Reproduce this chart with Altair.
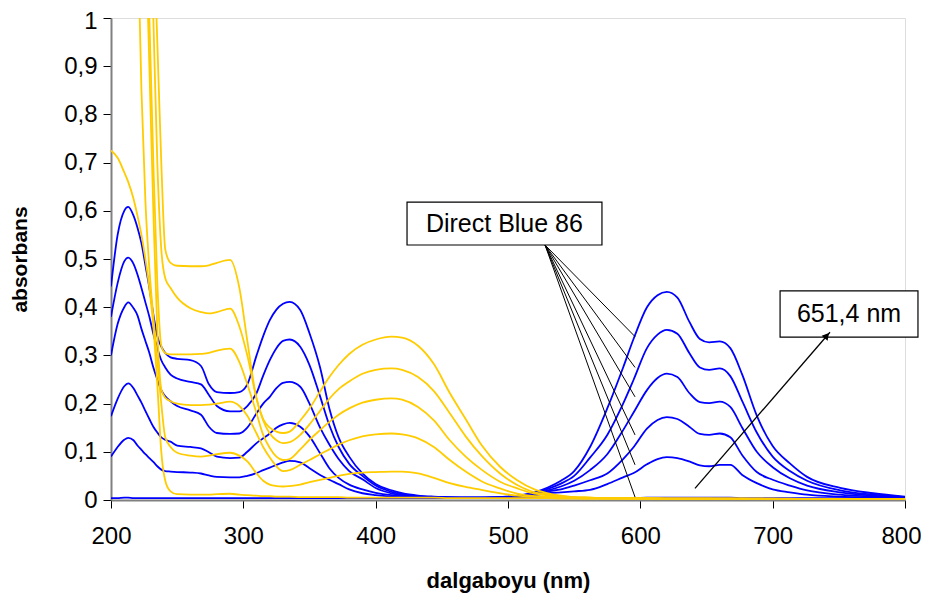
import altair as alt
import pandas as pd

# wavelength grid (nm)
wl = [200, 205, 210, 213, 217, 220, 223, 226, 229, 232, 235, 238, 241, 245, 250,
      260, 268, 274, 280, 290, 297, 303, 310, 315, 320, 325, 330, 335, 343, 350,
      358, 365, 372, 380, 390, 400, 412, 420, 432, 444, 456, 468, 480, 494, 507,
      520, 530, 540, 550, 562, 575, 587, 595, 605, 613, 620, 628, 637, 645, 652,
      660, 668, 677, 688, 700, 713, 726, 751, 776, 800]

# blue series (Direct Blue 86, decreasing concentrations)
b1 = [0.443, 0.55, 0.60, 0.608, 0.59, 0.565, 0.533, 0.487, 0.44, 0.385, 0.34, 0.318, 0.305, 0.296, 0.293,
      0.29, 0.278, 0.24, 0.224, 0.222, 0.224, 0.24, 0.30, 0.34, 0.373, 0.395, 0.407, 0.411, 0.394, 0.346,
      0.275, 0.19, 0.13, 0.09, 0.055, 0.033, 0.02, 0.014, 0.009, 0.007, 0.006, 0.005, 0.005, 0.006, 0.009,
      0.016, 0.026, 0.04, 0.06, 0.11, 0.19, 0.275, 0.335, 0.40, 0.425, 0.432, 0.42, 0.37, 0.334, 0.327,
      0.329, 0.315, 0.26, 0.175, 0.112, 0.076, 0.048, 0.025, 0.014, 0.007]
b2 = [0.38, 0.45, 0.495, 0.503, 0.49, 0.468, 0.44, 0.41, 0.38, 0.345, 0.315, 0.29, 0.275, 0.26, 0.252,
      0.245, 0.24, 0.218, 0.195, 0.184, 0.184, 0.195, 0.222, 0.258, 0.29, 0.315, 0.33, 0.333, 0.318, 0.28,
      0.215, 0.155, 0.11, 0.075, 0.05, 0.03, 0.017, 0.012, 0.008, 0.006, 0.005, 0.005, 0.005, 0.006, 0.008,
      0.015, 0.023, 0.034, 0.05, 0.088, 0.135, 0.2, 0.25, 0.315, 0.343, 0.353, 0.345, 0.305, 0.275, 0.27,
      0.273, 0.257, 0.205, 0.14, 0.09, 0.06, 0.04, 0.02, 0.011, 0.006]
b3 = [0.30, 0.365, 0.40, 0.41, 0.398, 0.383, 0.355, 0.33, 0.305, 0.275, 0.25, 0.228, 0.215, 0.205, 0.195,
      0.186, 0.177, 0.152, 0.139, 0.137, 0.138, 0.15, 0.18, 0.20, 0.214, 0.232, 0.243, 0.245, 0.235, 0.20,
      0.15, 0.115, 0.085, 0.06, 0.043, 0.025, 0.014, 0.01, 0.007, 0.005, 0.005, 0.005, 0.005, 0.006, 0.008,
      0.014, 0.02, 0.028, 0.04, 0.062, 0.095, 0.145, 0.182, 0.228, 0.253, 0.262, 0.255, 0.222, 0.203, 0.201,
      0.204, 0.193, 0.15, 0.10, 0.068, 0.045, 0.03, 0.016, 0.009, 0.005]
b4 = [0.174, 0.21, 0.236, 0.242, 0.232, 0.217, 0.202, 0.185, 0.168, 0.152, 0.14, 0.13, 0.125, 0.121, 0.113,
      0.11, 0.107, 0.099, 0.09, 0.087, 0.088, 0.10, 0.118, 0.128, 0.138, 0.15, 0.157, 0.16, 0.152, 0.132,
      0.097, 0.066, 0.046, 0.032, 0.022, 0.015, 0.01, 0.008, 0.006, 0.005, 0.005, 0.005, 0.005, 0.005, 0.007,
      0.012, 0.018, 0.022, 0.03, 0.041, 0.055, 0.085, 0.11, 0.148, 0.166, 0.172, 0.168, 0.152, 0.137, 0.135,
      0.138, 0.13, 0.093, 0.058, 0.042, 0.03, 0.02, 0.011, 0.007, 0.004]
b5 = [0.09, 0.11, 0.125, 0.129, 0.124, 0.113, 0.104, 0.095, 0.087, 0.079, 0.07, 0.063, 0.06, 0.059, 0.058,
      0.057, 0.055, 0.051, 0.048, 0.047, 0.047, 0.05, 0.056, 0.062, 0.067, 0.073, 0.078, 0.081, 0.078, 0.066,
      0.052, 0.042, 0.033, 0.022, 0.014, 0.01, 0.007, 0.006, 0.005, 0.005, 0.005, 0.005, 0.005, 0.005, 0.006,
      0.01, 0.014, 0.016, 0.018, 0.021, 0.033, 0.047, 0.056, 0.074, 0.085, 0.089, 0.087, 0.08, 0.072, 0.07,
      0.073, 0.073, 0.052, 0.035, 0.022, 0.016, 0.011, 0.007, 0.005, 0.003]
b0 = [0.004, 0.004, 0.005, 0.005, 0.004, 0.004, 0.004, 0.004, 0.004, 0.004, 0.004, 0.004, 0.004, 0.004, 0.004,
      0.004, 0.004, 0.004, 0.004, 0.004, 0.004, 0.004, 0.004, 0.004, 0.004, 0.004, 0.004, 0.004, 0.004, 0.004,
      0.004, 0.004, 0.004, 0.004, 0.004, 0.004, 0.004, 0.004, 0.004, 0.004, 0.004, 0.004, 0.004, 0.004, 0.004,
      0.004, 0.004, 0.004, 0.004, 0.004, 0.004, 0.004, 0.004, 0.005, 0.005, 0.005, 0.005, 0.005, 0.005, 0.005,
      0.005, 0.005, 0.004, 0.004, 0.004, 0.004, 0.004, 0.004, 0.004, 0.004]

# yellow series (decolorised / degradation products)
y1 = [2.0, 2.0, 2.0, 2.0, 2.0, 2.0, 1.9, 1.7, 1.5, 1.2, 0.95, 0.7, 0.52, 0.492, 0.486,
      0.485, 0.485, 0.487, 0.492, 0.498, 0.44, 0.33, 0.21, 0.168, 0.15, 0.142, 0.139, 0.142, 0.165, 0.19,
      0.225, 0.255, 0.28, 0.303, 0.322, 0.333, 0.339, 0.337, 0.32, 0.282, 0.222, 0.168, 0.114, 0.069, 0.041,
      0.022, 0.014, 0.009, 0.006, 0.005, 0.004, 0.004, 0.004, 0.004, 0.004, 0.003, 0.003, 0.003, 0.003, 0.003,
      0.003, 0.003, 0.003, 0.003, 0.003, 0.003, 0.002, 0.002, 0.002, 0.002]
y2 = [2.0, 2.0, 2.0, 2.0, 2.0, 2.0, 2.0, 1.6, 1.3, 1.0, 0.7, 0.52, 0.46, 0.44, 0.42,
      0.398, 0.39, 0.387, 0.39, 0.397, 0.36, 0.30, 0.21, 0.165, 0.138, 0.124, 0.118, 0.12, 0.135, 0.157,
      0.185, 0.21, 0.23, 0.246, 0.262, 0.27, 0.273, 0.27, 0.255, 0.226, 0.18, 0.132, 0.092, 0.055, 0.031,
      0.016, 0.012, 0.008, 0.006, 0.005, 0.004, 0.004, 0.004, 0.004, 0.003, 0.003, 0.003, 0.003, 0.003, 0.003,
      0.003, 0.003, 0.003, 0.003, 0.003, 0.002, 0.002, 0.002, 0.002, 0.002]
y3 = [2.0, 2.0, 2.0, 2.0, 2.0, 2.0, 1.7, 1.4, 1.0, 0.7, 0.45, 0.32, 0.305, 0.302, 0.302,
      0.302, 0.303, 0.305, 0.31, 0.314, 0.286, 0.24, 0.18, 0.135, 0.108, 0.09, 0.083, 0.085, 0.105, 0.125,
      0.145, 0.162, 0.177, 0.19, 0.202, 0.208, 0.211, 0.208, 0.193, 0.165, 0.124, 0.09, 0.063, 0.038, 0.024,
      0.013, 0.01, 0.007, 0.005, 0.004, 0.004, 0.004, 0.003, 0.003, 0.003, 0.003, 0.003, 0.003, 0.003, 0.003,
      0.003, 0.003, 0.003, 0.003, 0.002, 0.002, 0.002, 0.002, 0.002, 0.002]
y4 = [2.0, 2.0, 2.0, 2.0, 2.0, 1.8, 1.5, 1.2, 0.9, 0.6, 0.35, 0.23, 0.212, 0.205, 0.20,
      0.197, 0.197, 0.198, 0.20, 0.204, 0.195, 0.175, 0.138, 0.11, 0.088, 0.07, 0.06, 0.062, 0.073, 0.083,
      0.095, 0.105, 0.115, 0.124, 0.132, 0.136, 0.138, 0.136, 0.128, 0.11, 0.083, 0.059, 0.039, 0.024, 0.013,
      0.008, 0.007, 0.005, 0.004, 0.004, 0.003, 0.003, 0.003, 0.003, 0.003, 0.003, 0.003, 0.003, 0.003, 0.003,
      0.003, 0.003, 0.003, 0.002, 0.002, 0.002, 0.002, 0.002, 0.002, 0.002]
y5 = [2.0, 2.0, 2.0, 2.0, 1.6, 1.2, 0.85, 0.62, 0.48, 0.38, 0.29, 0.2, 0.13, 0.11, 0.098,
      0.092, 0.09, 0.092, 0.095, 0.098, 0.092, 0.08, 0.055, 0.04, 0.032, 0.029, 0.028, 0.029, 0.032, 0.037,
      0.042, 0.046, 0.05, 0.054, 0.057, 0.058, 0.059, 0.059, 0.055, 0.046, 0.035, 0.027, 0.021, 0.014, 0.009,
      0.007, 0.006, 0.005, 0.004, 0.003, 0.003, 0.003, 0.003, 0.003, 0.003, 0.003, 0.003, 0.003, 0.003, 0.003,
      0.003, 0.003, 0.002, 0.002, 0.002, 0.002, 0.002, 0.002, 0.002, 0.002]
y6 = [0.725, 0.71, 0.68, 0.66, 0.625, 0.59, 0.55, 0.50, 0.44, 0.36, 0.24, 0.10, 0.04, 0.018, 0.012,
      0.011, 0.011, 0.011, 0.012, 0.013, 0.011, 0.01, 0.009, 0.008, 0.008, 0.007, 0.007, 0.007, 0.006, 0.006,
      0.006, 0.006, 0.006, 0.005, 0.005, 0.005, 0.005, 0.005, 0.005, 0.005, 0.004, 0.004, 0.004, 0.004, 0.004,
      0.004, 0.004, 0.003, 0.003, 0.003, 0.003, 0.003, 0.003, 0.003, 0.003, 0.003, 0.003, 0.003, 0.003, 0.003,
      0.002, 0.002, 0.002, 0.002, 0.002, 0.002, 0.002, 0.002, 0.002, 0.002]

series = {
    "b1": ("blue", b1), "b2": ("blue", b2), "b3": ("blue", b3), "b4": ("blue", b4),
    "b5": ("blue", b5), "b0": ("blue", b0),
    "y1": ("yellow", y1), "y2": ("yellow", y2), "y3": ("yellow", y3), "y4": ("yellow", y4),
    "y5": ("yellow", y5), "y6": ("yellow", y6),
}
rows = []
for name, (grp, vals) in series.items():
    for w, v in zip(wl, vals):
        rows.append({"s": name, "g": grp, "wl": w, "v": v})
df = pd.DataFrame(rows)

# annotation anchors (data coordinates)
label_box = {"wl": 423.7, "wl2": 571.0, "v": 0.618, "v2": 0.529}
label_text = {"wl": 497.3, "v": 0.5735, "t": "Direct Blue 86"}
leader_end_v = [0.339, 0.275, 0.214, 0.135, 0.073, 0.006]
leader_start = (528.0, 0.529)
leader_end_wl = 596.0
nm_box = {"wl": 705.6, "wl2": 809.8, "v": 0.434, "v2": 0.338}
nm_text = {"wl": 757.7, "v": 0.386, "t": "651,4 nm"}
arrow = {"wl": 641.3, "v": 0.024, "wl2": 743.3, "v2": 0.348}
arrow_head_pos = {"wl": 740.9, "v": 0.341}

FONT = "Liberation Sans"
xs = alt.Scale(domain=[200, 800], nice=False, zero=False)
ys = alt.Scale(domain=[0, 1], nice=False)

xaxis = alt.Axis(values=[200, 300, 400, 500, 600, 700, 800], title="dalgaboyu (nm)",
                 grid=False, tickSize=8, labelFontSize=24, labelPadding=16,
                 labelOffset={"condition": {"test": "datum.value == 800", "value": -4}, "value": 0},
                 labelFont=FONT, titleFont=FONT, titleFontSize=22, titleFontWeight="bold",
                 titleY=80, titleBaseline="middle", domainColor="#808080", domainWidth=2,
                 tickColor="#000000", labelColor="#000000", titleColor="#000000", labelFlush=False)
yaxis = alt.Axis(values=[0, 0.1, 0.2, 0.3, 0.4, 0.5, 0.6, 0.7, 0.8, 0.9, 1.0], title="absorbans",
                 grid=False, tickSize=8, labelFontSize=24, labelPadding=6,
                 labelOffset={"condition": {"test": "datum.value == 1", "value": 3}, "value": 0},
                 labelExpr="datum.value == 0 ? '0' : (datum.value == 1 ? '1' : replace(format(datum.value, '.1f'), '.', ','))",
                 labelFont=FONT, titleFont=FONT, titleFontSize=21, titleFontWeight="bold",
                 titleX=-91, titleBaseline="middle", domainColor="#808080", domainWidth=2,
                 tickColor="#000000", labelColor="#000000", titleColor="#000000", labelFlush=False)

X = alt.X("wl:Q", scale=xs, axis=xaxis)
Y = alt.Y("v:Q", scale=ys, axis=yaxis)

color = alt.Color("g:N", scale=alt.Scale(domain=["blue", "yellow"], range=["#0000FF", "#FFCC00"]), legend=None)

blue = alt.Chart(df[df.g == "blue"]).mark_line(clip=True, strokeWidth=1.8, interpolate="monotone").encode(
    x=X, y=Y, color=color, detail="s:N")
yellow = alt.Chart(df[df.g == "yellow"]).mark_line(clip=True, strokeWidth=1.8, interpolate="monotone").encode(
    x=X, y=Y, color=color, detail="s:N")

lead_df = pd.DataFrame({"wl": [leader_start[0]] * len(leader_end_v), "v": [leader_start[1]] * len(leader_end_v),
                        "wl2": [leader_end_wl] * len(leader_end_v), "v2": leader_end_v})
leaders = alt.Chart(lead_df).mark_rule(color="#000000", strokeWidth=1).encode(
    x=X, y=Y, x2="wl2:Q", y2="v2:Q")

box_df = pd.DataFrame([label_box, nm_box])
boxes = alt.Chart(box_df).mark_rect(fill="#ffffff", stroke="#000000", strokeWidth=1.2, clip=False).encode(
    x=X, y=Y, x2="wl2:Q", y2="v2:Q")

txt_df = pd.DataFrame([label_text, nm_text])
texts = alt.Chart(txt_df).mark_text(font=FONT, fontSize=25, color="#000000", baseline="middle", align="center").encode(
    x=X, y=Y, text="t:N")

arr_df = pd.DataFrame([arrow])
arrow_line = alt.Chart(arr_df).mark_rule(color="#000000", strokeWidth=1.3).encode(
    x=X, y=Y, x2="wl2:Q", y2="v2:Q")
head_df = pd.DataFrame([arrow_head_pos])
arrow_head = alt.Chart(head_df).mark_point(shape="triangle-up", filled=True, color="#000000", size=60,
                                            angle=40, opacity=1).encode(x=X, y=Y)

chart = alt.layer(blue, yellow, leaders, boxes, texts, arrow_line, arrow_head).properties(
    width=794, height=482, autosize="none",
    padding={"left": 103, "top": 10, "right": 16, "bottom": 93},
).configure_view(stroke=None).configure(background="#ffffff")

chart.save("out.html", embed_options={"renderer": "svg", "actions": False})
